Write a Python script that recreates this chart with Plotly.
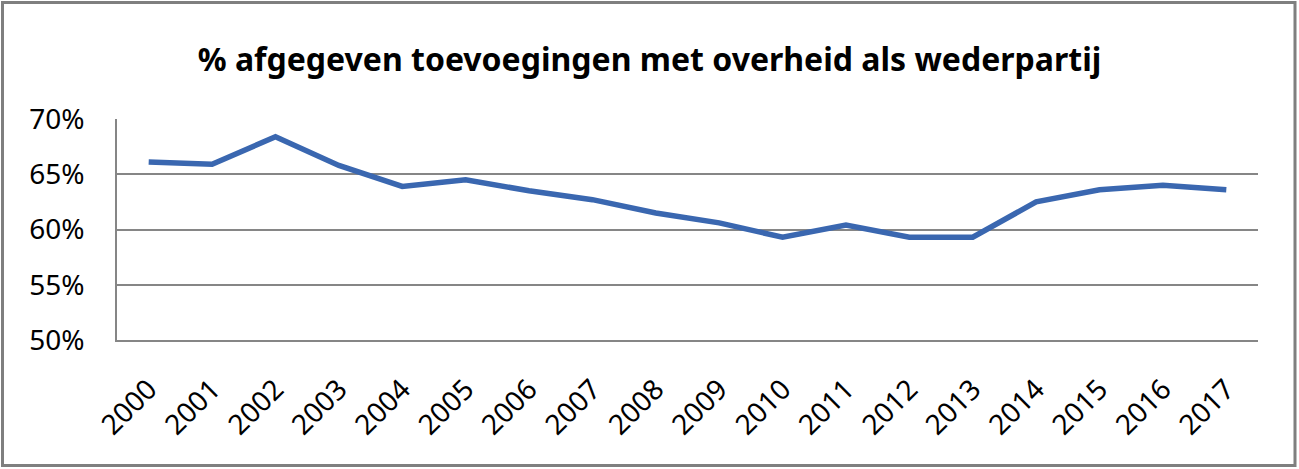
import plotly.graph_objects as go

years = ["2000", "2001", "2002", "2003", "2004", "2005", "2006", "2007", "2008",
         "2009", "2010", "2011", "2012", "2013", "2014", "2015", "2016", "2017"]
share = [0.661, 0.659, 0.684, 0.658, 0.639, 0.645, 0.635, 0.627, 0.615,
         0.606, 0.593, 0.604, 0.593, 0.593, 0.625, 0.636, 0.640, 0.636]
title_text = "% afgegeven toevoegingen met overheid als wederpartij"

W, H = 1299, 469
ml, mr, mt, mb = 117, 41, 119, 129

fig = go.Figure()
fig.add_trace(go.Scatter(
    x=years, y=share, mode="lines",
    line=dict(color="#3A67B0", width=5.5),
    hoverinfo="x+y",
))

pw = W - ml - mr
ph = H - mt - mb
fig.add_shape(type="rect", xref="paper", yref="paper",
              x0=(2.5 - ml) / pw, x1=(W - 4 - ml) / pw,
              y0=-(H - 3.5 - mt - ph) / ph, y1=1 + (mt - 2.5) / ph,
              line=dict(color="#7F7F7F", width=3), layer="below")

fig.update_layout(
    width=W, height=H,
    margin=dict(l=ml, r=mr, t=mt, b=mb),
    paper_bgcolor="white", plot_bgcolor="white",
    showlegend=False,
    font=dict(family="Noto Sans, DejaVu Sans, sans-serif", color="black"),
    title=dict(text="<b>" + title_text + "</b>", x=0.5, xanchor="center",
               y=1 - 60 / H, yanchor="middle",
               font=dict(size=32, family="Noto Sans, sans-serif", color="black")),
    xaxis=dict(type="category", range=[-0.5, 17.5], tickangle=-45,
               showgrid=False, showline=True, linecolor="#868686", linewidth=1.5,
               ticks="", tickfont=dict(size=28), ticklabelstandoff=20),
    yaxis=dict(range=[0.5, 0.7], dtick=0.05, tickformat=".0%",
               showgrid=True, gridcolor="#868686", gridwidth=1.5,
               showline=True, linecolor="#868686", linewidth=1.5,
               ticks="", tickfont=dict(size=28), ticklabelstandoff=25,
               zeroline=False),
)

fig.write_html("out.html")
